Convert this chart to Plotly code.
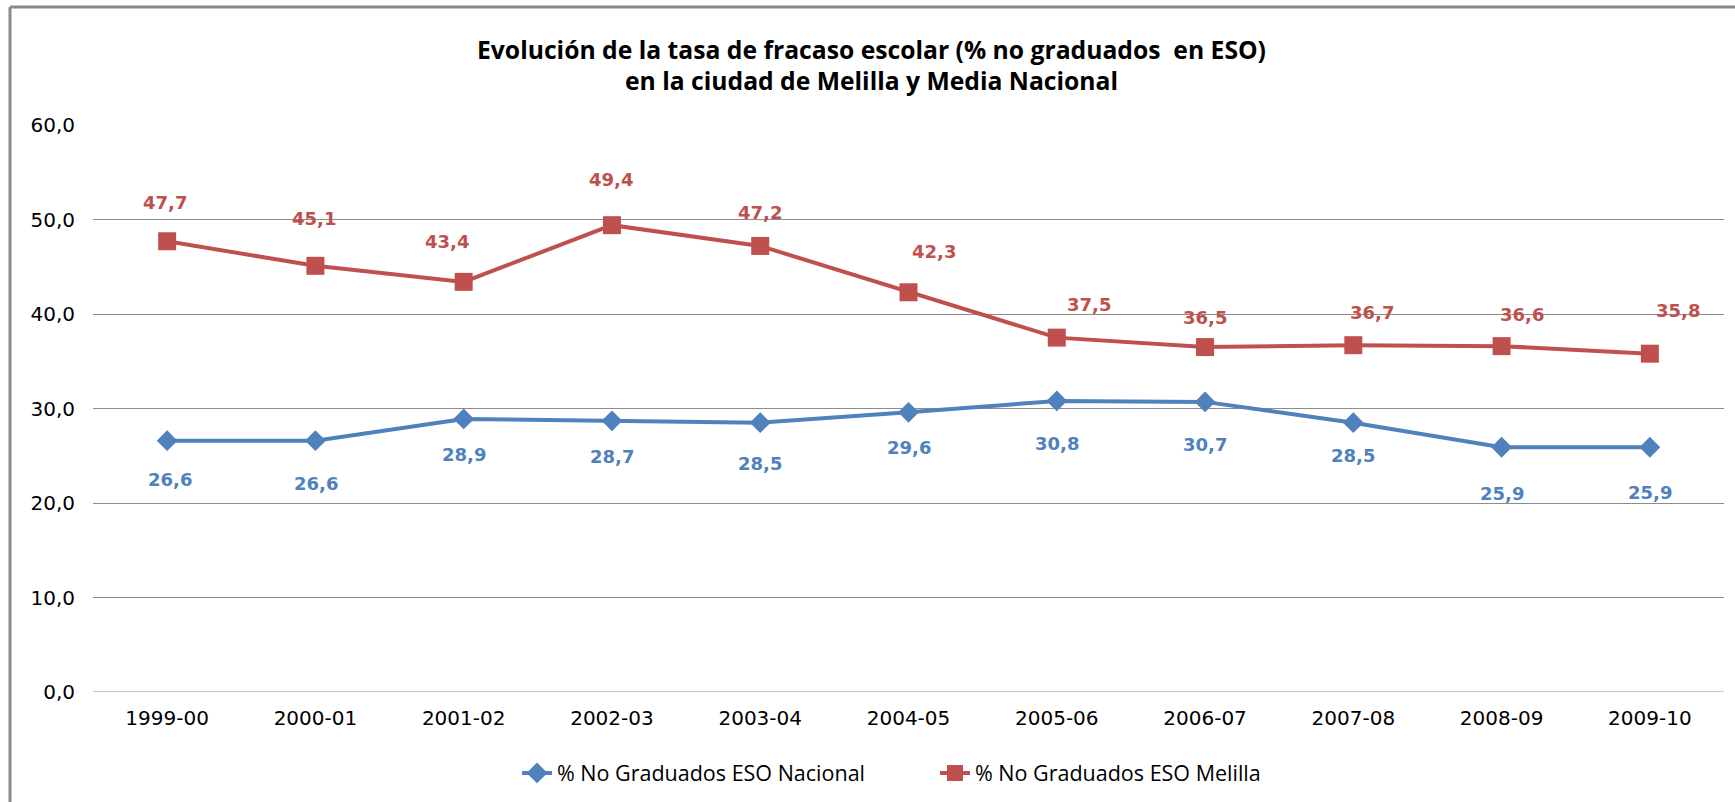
import plotly.graph_objects as go

cursos = ["1999-00", "2000-01", "2001-02", "2002-03", "2003-04", "2004-05",
          "2005-06", "2006-07", "2007-08", "2008-09", "2009-10"]
nacional = [26.6, 26.6, 28.9, 28.7, 28.5, 29.6, 30.8, 30.7, 28.5, 25.9, 25.9]
melilla = [47.7, 45.1, 43.4, 49.4, 47.2, 42.3, 37.5, 36.5, 36.7, 36.6, 35.8]
y_ticks = [0, 10, 20, 30, 40, 50, 60]
title_lines = ["Evolución de la tasa de fracaso escolar (% no graduados  en ESO)",
               "en la ciudad de Melilla y Media Nacional"]

BLUE = "#4F81BD"
RED = "#C0504D"
GRID = "#8C8C8C"

# label offsets (pixels) as placed in the original chart
red_off = [(-2, 39), (-1, 47), (-17, 40), (-1, 46), (0, 33), (25, 41), (32, 33), (0, 30), (19, 33), (20, 32), (28, 43)]
blue_off = [(3, -39), (1, -43), (0, -36), (0, -36), (0, -41), (0, -35), (0, -43), (0, -43), (0, -33), (0, -46), (0, -45)]

def fmt(v):
    return f"{v:.1f}".replace(".", ",")

W, H = 1735, 802
L, R, T, B = 93, 11, 125, 110
pw, ph = W - L - R, H - T - B

def px_x(p):
    return (p - L) / pw

def px_y(p):
    return (H - B - p) / ph

fig = go.Figure()
fig.add_trace(go.Scatter(
    x=cursos, y=nacional, mode="lines+markers", name="% No Graduados ESO Nacional",
    line=dict(color=BLUE, width=4),
    marker=dict(symbol="diamond", size=16, color=BLUE),
    legend="legend",
))
fig.add_trace(go.Scatter(
    x=cursos, y=melilla, mode="lines+markers", name="% No Graduados ESO Melilla",
    line=dict(color=RED, width=4),
    marker=dict(symbol="square", size=18, color=RED),
    legend="legend2",
))

annotations = []
for i, (c, v) in enumerate(zip(cursos, melilla)):
    annotations.append(dict(x=c, y=v, text=fmt(v), showarrow=False,
                            xshift=red_off[i][0], yshift=red_off[i][1],
                            font=dict(family="DejaVu Sans", size=18, color=RED, weight="bold")))
for i, (c, v) in enumerate(zip(cursos, nacional)):
    annotations.append(dict(x=c, y=v, text=fmt(v), showarrow=False,
                            xshift=blue_off[i][0], yshift=blue_off[i][1],
                            font=dict(family="DejaVu Sans", size=18, color=BLUE, weight="bold")))

for line, ypx in zip(title_lines, [49, 80]):
    annotations.append(dict(
        xref="paper", yref="paper", x=px_x(871), y=px_y(ypx),
        text=f"<b>{line}</b>",
        showarrow=False, xanchor="center", yanchor="middle",
        font=dict(family="Open Sans", size=24.7, color="#000000"),
    ))

shapes = [
    dict(type="line", xref="paper", yref="paper", x0=px_x(10), x1=px_x(10), y0=px_y(7), y1=px_y(802),
         line=dict(color="#8A8A8A", width=3)),
    dict(type="line", xref="paper", yref="paper", x0=px_x(10), x1=px_x(1735), y0=px_y(7), y1=px_y(7),
         line=dict(color="#8A8A8A", width=3)),
]

legend_font = dict(family="Open Sans", size=21.5, color="#000000")

fig.update_layout(
    width=W, height=H,
    margin=dict(l=L, r=R, t=T, b=B, pad=0, autoexpand=False),
    paper_bgcolor="white", plot_bgcolor="white",
    showlegend=True,
    legend=dict(x=px_x(517), xanchor="left", y=px_y(773), yanchor="middle",
                font=legend_font, bgcolor="rgba(0,0,0,0)", borderwidth=0),
    legend2=dict(x=px_x(935), xanchor="left", y=px_y(773), yanchor="middle",
                 font=legend_font, bgcolor="rgba(0,0,0,0)", borderwidth=0),
    annotations=annotations,
    shapes=shapes,
    xaxis=dict(type="category", range=[-0.5, 10.5], showgrid=False, zeroline=False,
               showline=False, ticks="outside", ticklen=8, tickcolor="rgba(0,0,0,0)",
               tickfont=dict(family="DejaVu Sans", size=20, color="#000000")),
    yaxis=dict(range=[0, 60], tickvals=y_ticks, ticktext=[fmt(v) for v in y_ticks],
               showgrid=True, gridcolor=GRID, gridwidth=1, zeroline=False, showline=False,
               ticks="outside", ticklen=13, tickcolor="rgba(0,0,0,0)",
               tickfont=dict(family="DejaVu Sans", size=20, color="#000000")),
    font=dict(family="DejaVu Sans"),
)
fig.add_hline(y=0, line=dict(color=GRID, width=1))

fig.write_html("out.html", config={"displayModeBar": False},
               post_script="document.body.style.margin='0';document.body.style.overflow='hidden';")
